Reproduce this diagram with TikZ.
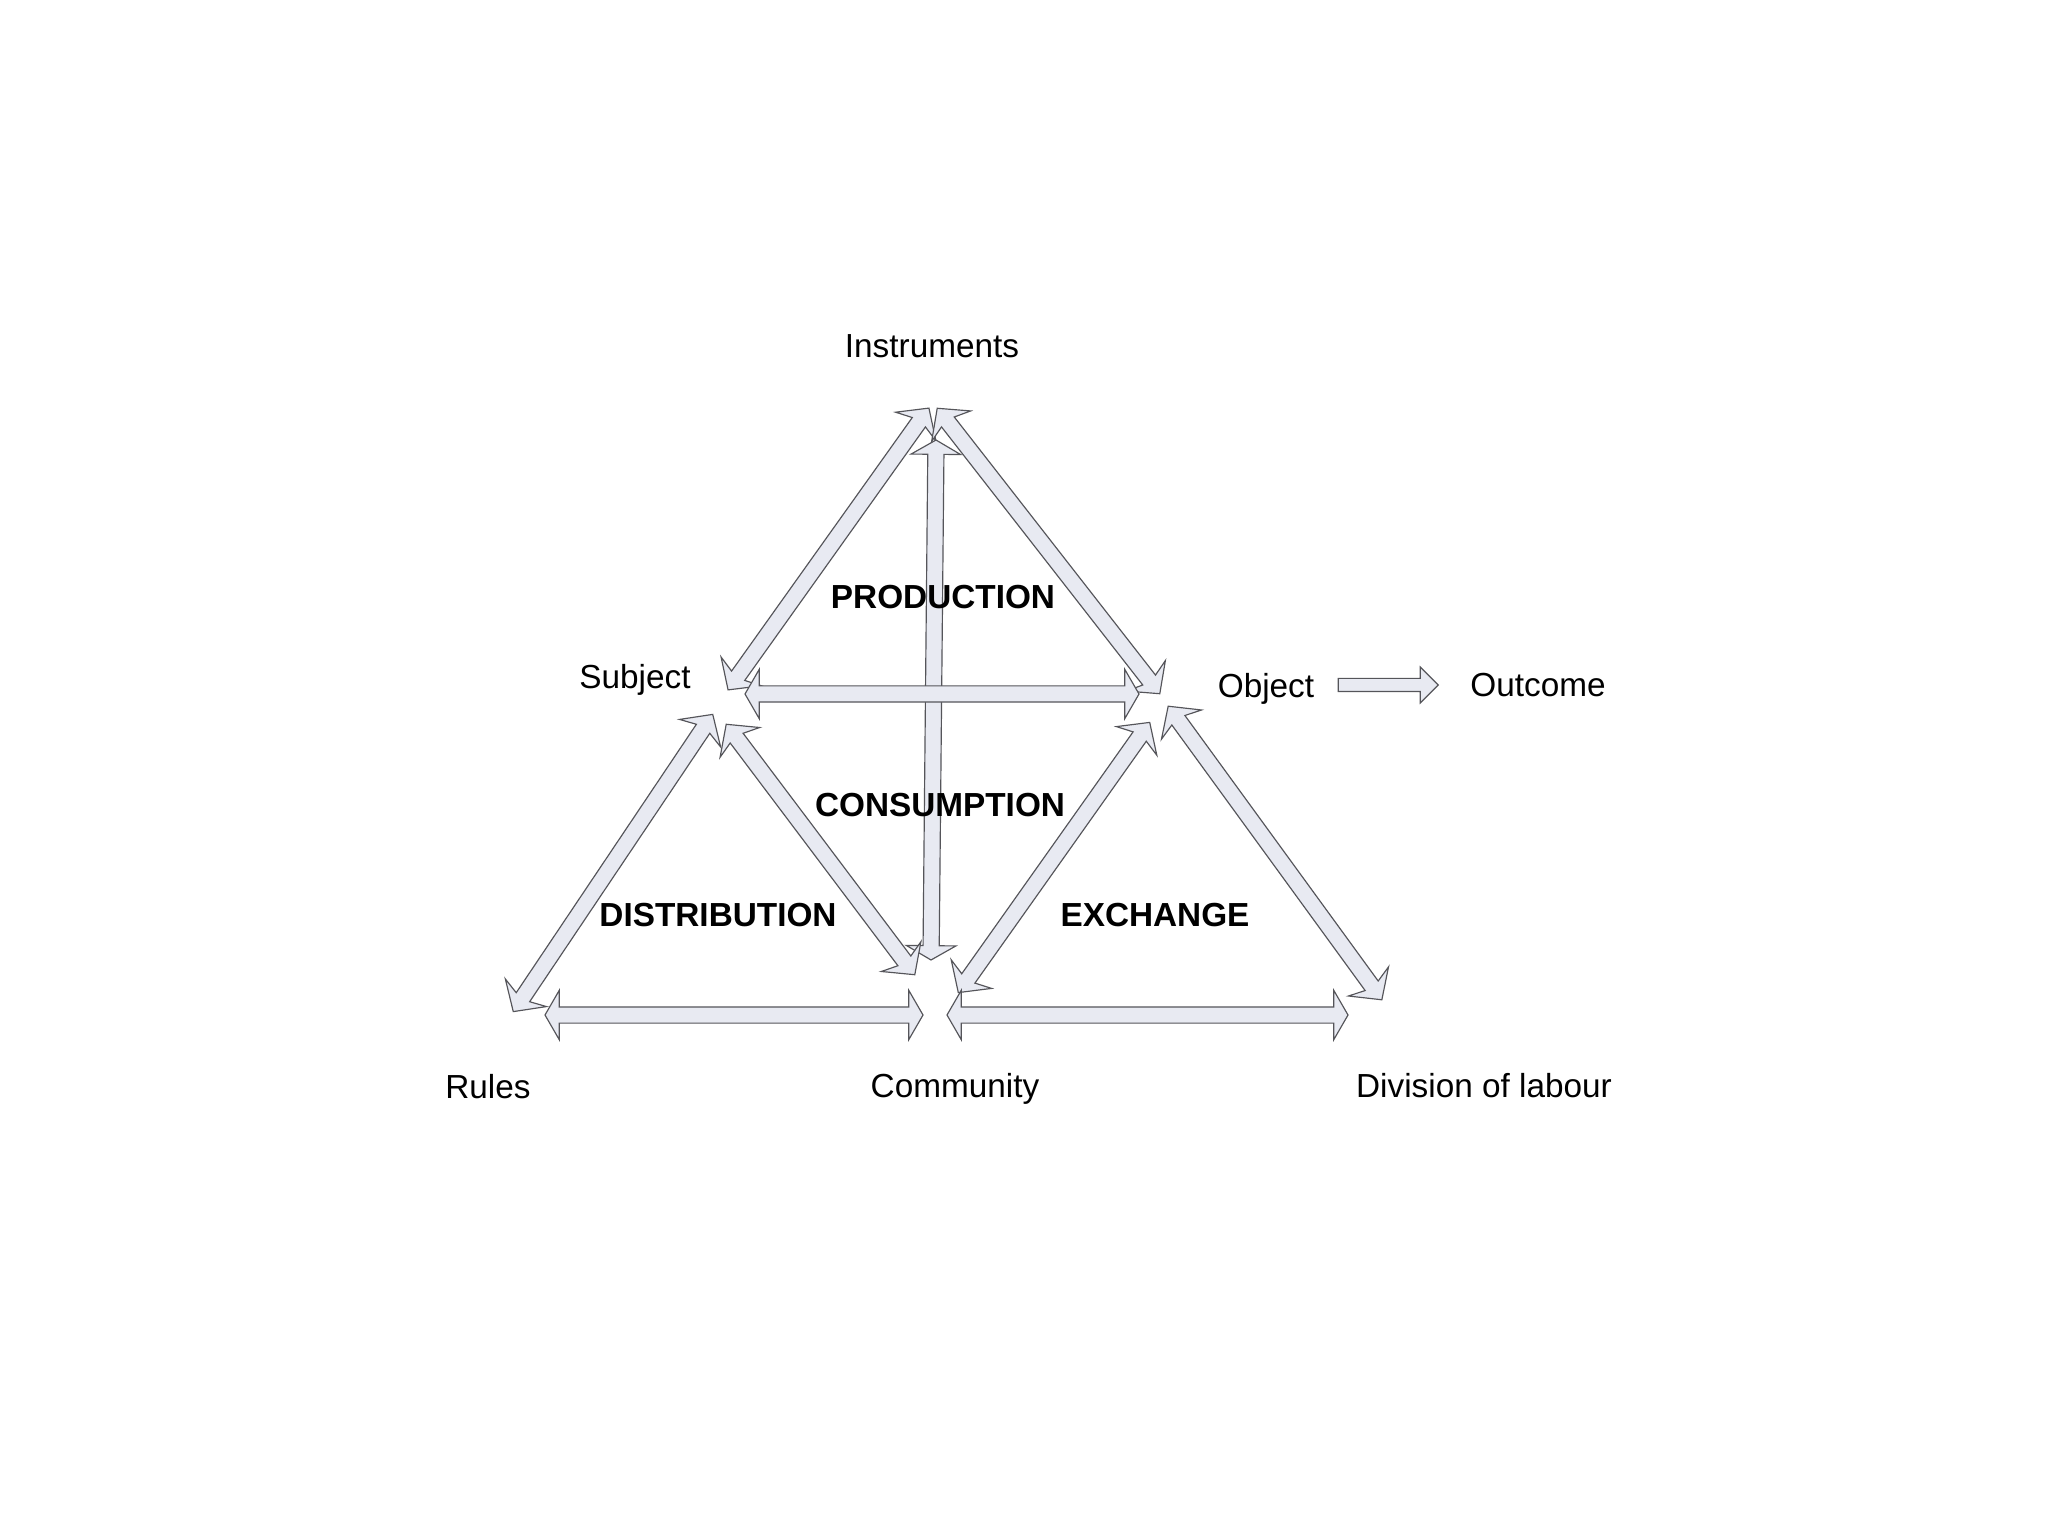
\documentclass[tikz,border=0pt]{standalone}
\usepackage{xcolor}
\usepackage{fontspec}
\setmainfont{Liberation Sans}
\usetikzlibrary{shapes.arrows,calc}

\definecolor{arrfill}{RGB}{232,234,242}
\definecolor{arrline}{RGB}{85,85,90}

\tikzset{
  blockarr/.style={double arrow, draw=arrline, fill=arrfill, line width=0.35pt,
    inner xsep=0pt, inner ysep=2.25pt, double arrow tip angle=120,
    double arrow head extend=5pt},
  slantarr/.style={blockarr, double arrow tip angle=95, double arrow head indent=1.6pt},
  outarr/.style={single arrow, draw=arrline, fill=arrfill, line width=0.35pt,
    inner xsep=0pt, inner ysep=1.8pt, single arrow tip angle=90,
    single arrow head extend=3.45pt},
  lbl/.style={font=\fontsize{10}{12}\selectfont, inner sep=0.75pt},
  area/.style={font=\fontsize{10}{12}\selectfont\bfseries, inner sep=0.75pt}
}

% block arrow from #3 to #4, named #2, style #1
% (the picture has yscale=-1, so the turn is negated)
\newcommand{\linkarrow}[4]{%
  \path let \p1=(#3), \p2=(#4), \n1={atan2(\y2-\y1,\x2-\x1)},
    \n2={veclen(\x2-\x1,\y2-\y1)} in
    node (#2) [#1, rotate=-\n1, minimum height=\n2] at ($(#3)!0.5!(#4)$) {};}

\begin{document}
\begin{tikzpicture}[x=0.3pt,y=0.3pt,yscale=-1]
\useasboundingbox (0,0) rectangle (2048,1536);

%Tips round Instruments
\coordinate (i-s) at (929,408);
\coordinate (i-o) at (937,408);
\coordinate (i-c) at (936,440);
%Tips round Subject
\coordinate (s-i) at (728,690);
\coordinate (s-o) at (745,694);
\coordinate (s-r) at (713,714);
\coordinate (s-c) at (726,724);
%Tips round Object
\coordinate (o-i) at (1160,694);
\coordinate (o-s) at (1139,694);
\coordinate (o-c) at (1150,722);
\coordinate (o-d) at (1168,706);
%Tips round Community
\coordinate (c-i) at (931,960);
\coordinate (c-s) at (915,975);
\coordinate (c-o) at (958,993);
\coordinate (c-r) at (923,1015);
\coordinate (c-d) at (947,1015);
%Tips round Rules and Division of labour
\coordinate (r-s) at (513,1012);
\coordinate (r-c) at (545,1015);
\coordinate (d-o) at (1382,1000);
\coordinate (d-c) at (1348,1015);
%Object to Outcome
\coordinate (obj-e) at (1335,685);
\coordinate (out-w) at (1435,685);

%Block Arrows
\linkarrow{slantarr}{aSI}{s-i}{i-s}
\linkarrow{slantarr}{aIO}{i-o}{o-i}
\linkarrow{blockarr}{aIC}{i-c}{c-i}
\linkarrow{blockarr}{aSO}{s-o}{o-s}
\linkarrow{slantarr}{aSR}{s-r}{r-s}
\linkarrow{slantarr}{aSC}{s-c}{c-s}
\linkarrow{slantarr}{aOC}{o-c}{c-o}
\linkarrow{slantarr}{aOD}{o-d}{d-o}
\linkarrow{blockarr}{aRC}{r-c}{c-r}
\linkarrow{blockarr}{aCD}{c-d}{d-c}
\linkarrow{outarr}{aOut}{obj-e}{out-w}

% Text Node
\node (instr) [lbl] at (932,346) {Instruments};
% Text Node
\node (subj) [lbl] at (635,680) {Subject};
% Text Node
\node (obj) [lbl] at (1266,689) {Object};
% Text Node
\node (outc) [lbl] at (1538,685) {Outcome};
% Text Node
\node (rules) [lbl] at (488,1087) {Rules};
% Text Node
\node (comm) [lbl] at (955,1089) {Community};
% Text Node
\node (divl) [lbl] at (1484,1086) {Division of labour};
% Text Node
\node (prod) [area] at (943,597) {PRODUCTION};
% Text Node
\node (cons) [area] at (940,805) {CONSUMPTION};
% Text Node
\node (distr) [area] at (718,915) {DISTRIBUTION};
% Text Node
\node (exch) [area] at (1155,915) {EXCHANGE};

\end{tikzpicture}
\end{document}
